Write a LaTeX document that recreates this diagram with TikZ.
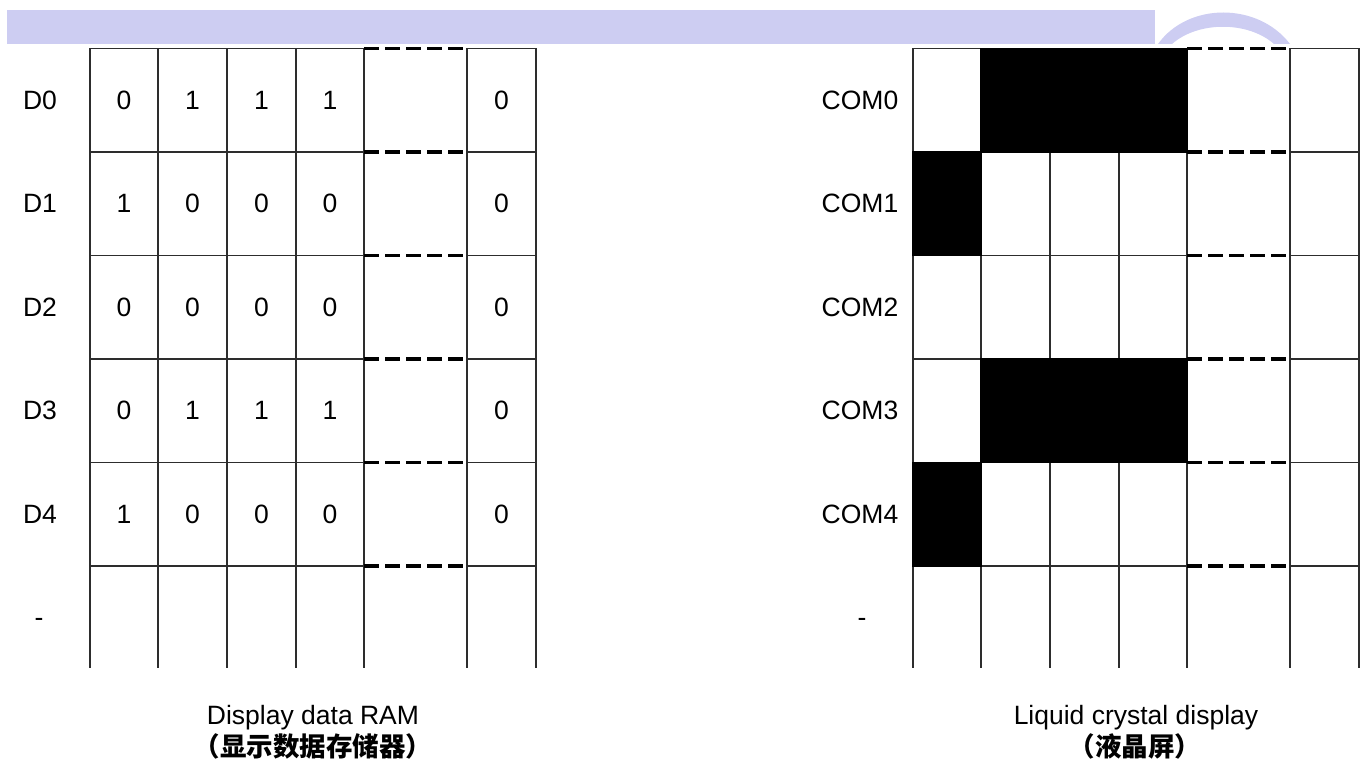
\documentclass[tikz,border=0pt]{standalone}
\usepackage{fontspec}
\setmainfont{Liberation Sans}
\newfontfamily\cjk{Noto Sans CJK SC}
\usetikzlibrary{
    positioning,
    calc
}
\definecolor{BandBlue}{RGB}{205,205,242}
\definecolor{GridGray}{RGB}{45,45,45}

\begin{document}
\begin{tikzpicture}[
                    x=1pt, y=-1pt,
                    font=\fontsize{26.5}{31}\selectfont,
                    every node/.style={inner sep=1pt},
                    gridline/.style={line width=1.6pt, GridGray},
                    gapline/.style={line width=3.6pt, black, dash pattern=on 15pt off 6pt},
                    cnlabel/.style={font=\fontsize{26.5}{31}\selectfont\cjk\bfseries},
                ]
                  \def\rowH{103.5}
                  \def\gridTop{48.5}
                  \def\gridBot{668}
                  \def\shiftR{823}

                  \useasboundingbox (0,0) rectangle (1367,760);

                  % Header band
                  \fill[BandBlue] (7,10) rectangle (1155,44);
                  \fill[BandBlue] (1158,44) .. controls (1188,2) and (1258,2) .. (1290,44)
                        -- (1274,44) .. controls (1248,21) and (1198,21) .. (1172,44) -- cycle;

                  % ---- Grid lines, left and right ----
                  \foreach \dx in {0,\shiftR} {
                    \foreach \x in {90,158,227,296,364,467,536}
                      \draw[gridline] (\x+\dx,\gridTop) -- (\x+\dx,\gridBot);
                    \foreach \k in {0,...,5} {
                      \draw[gridline] (90+\dx,\gridTop+\k*\rowH) -- (364+\dx,\gridTop+\k*\rowH);
                      \draw[gapline] (364+\dx,\gridTop+\k*\rowH) -- (467+\dx,\gridTop+\k*\rowH);
                      \draw[gridline] (467+\dx,\gridTop+\k*\rowH) -- (536+\dx,\gridTop+\k*\rowH);
                    }
                  }

                  % ---- LCD pixels (right grid) ----
                  \foreach \r/\xa/\xb in {0/981/1187, 1/913/981, 3/981/1187, 4/913/981}
                    \fill[black] (\xa-0.8,\gridTop+\r*\rowH-0.8) rectangle (\xb+0.8,\gridTop+\r*\rowH+\rowH+0.8);

                  % ---- Display data RAM (bits) ----
                  \foreach \r/\a/\b/\c/\d in {0/0/1/1/1, 1/1/0/0/0, 2/0/0/0/0, 3/0/1/1/1, 4/1/0/0/0} {
                    \node (d\r) at (40,\gridTop+\r*\rowH+0.5*\rowH) {D\r};
                    \node (com\r) at (860,\gridTop+\r*\rowH+0.5*\rowH) {COM\r};
                    \node (b\r-1) at (124,\gridTop+\r*\rowH+0.5*\rowH) {\a};
                    \node (b\r-2) at (192.5,\gridTop+\r*\rowH+0.5*\rowH) {\b};
                    \node (b\r-3) at (261.5,\gridTop+\r*\rowH+0.5*\rowH) {\c};
                    \node (b\r-4) at (330,\gridTop+\r*\rowH+0.5*\rowH) {\d};
                    \node (b\r-n) at (501.5,\gridTop+\r*\rowH+0.5*\rowH) {0};
                  }
                  \node (d5) at (39,\gridTop+5.5*\rowH+5) {-};
                  \node (com5) at (862,\gridTop+5.5*\rowH+5) {-};

                  % Captions
                  \node (ramcap) at (313,718) {Display data RAM};
                  \node[cnlabel] (ramcn) at (313,746) {（显示数据存储器）};
                  \node (lcdcap) at (1136,718) {Liquid crystal display};
                  \node[cnlabel] (lcdcn) at (1135,746) {（液晶屏）};
                \end{tikzpicture}
\end{document}
